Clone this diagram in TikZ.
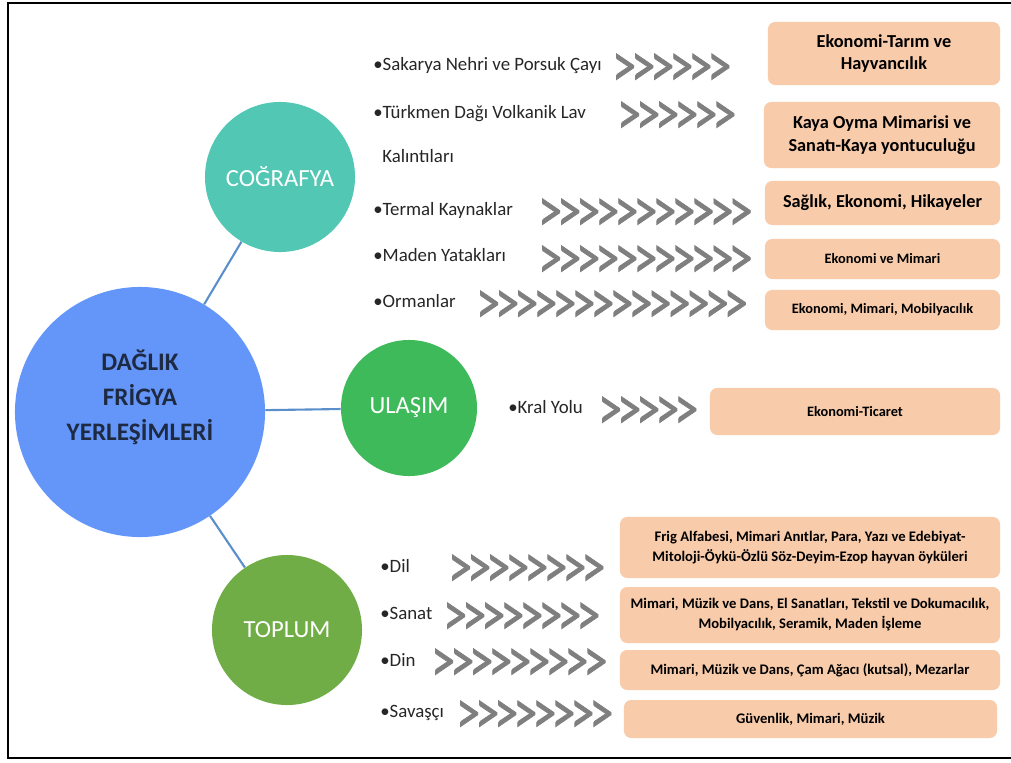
\documentclass[tikz,border=0pt]{standalone}
\usepackage{fontspec}
\setmainfont{Carlito}
\newfontfamily\chevfont{Carlito}[FakeStretch=0.76, FakeBold=1.2]
\newcommand\gt{>\kern-3.3pt}
\definecolor{hubblue}{HTML}{6495F8}
\definecolor{geoteal}{HTML}{52C8B4}
\definecolor{ulgreen}{HTML}{3FBA5B}
\definecolor{topgreen}{HTML}{70AD47}
\definecolor{peach}{HTML}{F8CBAA}
\definecolor{linkblue}{HTML}{5B8FCB}
\definecolor{chevgray}{HTML}{7F7F7F}
\definecolor{labelgray}{HTML}{262626}
\definecolor{titlenavy}{HTML}{1E2A42}
\begin{document}
\begin{tikzpicture}[x=0.025cm,y=-0.025cm,
  lbl/.style={anchor=mid west, inner sep=0pt, text=labelgray, font=\fontsize{13.4}{16}\selectfont},
  chev/.style={anchor=base west, inner sep=0pt, text=chevgray, font=\chevfont\fontsize{44.5}{48}\selectfont},
  box/.style={fill=peach, rounded corners=0.18cm, inner sep=0pt, align=center, text=black},
  bigtxt/.style={font=\fontsize{13}{16}\selectfont\bfseries},
  midtxt/.style={font=\fontsize{10.2}{14}\selectfont\bfseries},
  smalltxt/.style={font=\fontsize{10.4}{14.2}\selectfont\bfseries},
  hub/.style={circle, inner sep=0pt, text=white, font=\fontsize{17.5}{20}\selectfont},
  link/.style={draw=linkblue, line width=1.5pt}
]
\useasboundingbox (0,0) rectangle (1011,762);
% frame
\draw[line width=1.5pt] (1011,3) -- (8,3) -- (8,758) -- (1011,758);

% circles
\node[hub, fill=hubblue, minimum size=6.25cm] (main) at (140,412) {};
\node[text=titlenavy, align=center, inner sep=0pt, font=\fontsize{17.9}{25}\selectfont\bfseries] (maintxt) at (140,397) {DAĞLIK\\FRİGYA\\YERLEŞİMLERİ};
\node[hub, fill=geoteal, minimum size=3.75cm] (geo) at (280,177) {COĞRAFYA};
\node[hub, fill=ulgreen, minimum size=3.4cm] (ul) at (409,408) {ULAŞIM};
\node[hub, fill=topgreen, minimum size=3.75cm] (top) at (287,630) {TOPLUM};

\draw[link] (main) -- (geo);
\draw[link] (main) -- (ul);
\draw[link] (main) -- (top);

% geography items
\node[lbl] (g1) at (373,67) {•Sakarya Nehri ve Porsuk Çayı};
\node[chev] (c1) at (612,86.5) {\gt\gt\gt\gt\gt\gt};
\node[lbl] (g2) at (373,115) {•Türkmen Dağı Volkanik Lav};
\node[lbl] (g2b) at (382,159) {Kalıntıları};
\node[chev] (c2) at (617,134.5) {\gt\gt\gt\gt\gt\gt};
\node[lbl] (g3) at (373,212) {•Termal Kaynaklar};
\node[chev] (c3) at (538,231.5) {\gt\gt\gt\gt\gt\gt\gt\gt\gt\gt\gt};
\node[lbl] (g4) at (373,258) {•Maden Yatakları};
\node[chev] (c4) at (538,278.5) {\gt\gt\gt\gt\gt\gt\gt\gt\gt\gt\gt};
\node[lbl] (g5) at (373,304) {•Ormanlar};
\node[chev] (c5) at (476,323.5) {\gt\gt\gt\gt\gt\gt\gt\gt\gt\gt\gt\gt\gt\gt};

% boxes geography
\node[box, bigtxt, minimum width=5.8cm, minimum height=1.575cm] (b1) at (884,53.5) {Ekonomi-Tarım ve\\Hayvancılık};
\node[box, bigtxt, minimum width=5.9cm, minimum height=1.65cm] (b2) at (882,135) {Kaya Oyma Mimarisi ve\\Sanatı-Kaya yontuculuğu};
\node[box, bigtxt, minimum width=5.875cm, minimum height=1.1cm] (b3) at (882.5,203) {Sağlık, Ekonomi, Hikayeler};
\node[box, midtxt, minimum width=5.875cm, minimum height=1.0cm] (b4) at (882.5,259) {Ekonomi ve Mimari};
\node[box, midtxt, minimum width=5.875cm, minimum height=1.0cm] (b5) at (882.5,310) {Ekonomi, Mimari, Mobilyacılık};

% transport
\node[lbl] (u1) at (508,410) {•Kral Yolu};
\node[chev] (c6) at (598,429.5) {\gt\gt\gt\gt\gt};
\node[box, midtxt, minimum width=7.25cm, minimum height=1.175cm] (b6) at (855,411.5) {Ekonomi-Ticaret};

% society
\node[lbl] (t1) at (380,569) {•Dil};
\node[chev] (c7) at (448,587.5) {\gt\gt\gt\gt\gt\gt\gt\gt};
\node[lbl] (t2) at (380,616) {•Sanat};
\node[chev] (c8) at (443,635.5) {\gt\gt\gt\gt\gt\gt\gt\gt};
\node[lbl] (t3) at (380,663) {•Din};
\node[chev] (c9) at (431,681.5) {\gt\gt\gt\gt\gt\gt\gt\gt\gt};
\node[lbl] (t4) at (380,714) {•Savaşçı};
\node[chev] (c10) at (456,733.5) {\gt\gt\gt\gt\gt\gt\gt\gt};

\node[box, smalltxt, minimum width=9.5cm, minimum height=1.525cm] (b7) at (810,547.5) {Frig Alfabesi, Mimari Anıtlar, Para, Yazı ve Edebiyat-\\Mitoloji-Öykü-Özlü Söz-Deyim-Ezop hayvan öyküleri};
\node[box, smalltxt, minimum width=9.5cm, minimum height=1.4cm] (b8) at (810,615) {Mimari, Müzik ve Dans, El Sanatları, Tekstil ve Dokumacılık,\\Mobilyacılık, Seramik, Maden İşleme};
\node[box, smalltxt, minimum width=9.5cm, minimum height=1.0cm] (b9) at (810,670) {Mimari, Müzik ve Dans, Çam Ağacı (kutsal), Mezarlar};
\node[box, smalltxt, minimum width=9.325cm, minimum height=0.95cm] (b10) at (810.5,719) {Güvenlik, Mimari, Müzik};
\end{tikzpicture}
\end{document}
